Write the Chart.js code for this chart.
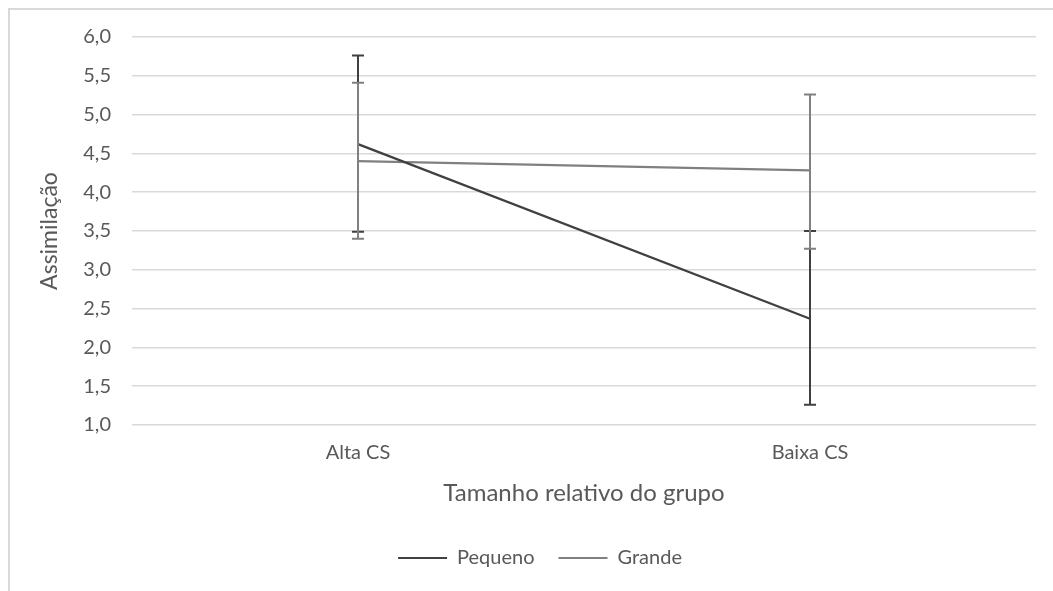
<!DOCTYPE html>
<html>
<head>
<meta charset="utf-8">
<script src="https://cdn.jsdelivr.net/npm/chart.js@4/dist/chart.umd.min.js"></script>
<style>
    body { margin: 0; background: #fff; overflow: hidden; }
    #moldura { position: absolute; left: 8px; top: 8px; right: 0; bottom: 0; border-top: 2px solid #d9d9d9; border-left: 2px solid #d9d9d9; }
    #grafico { position: absolute; left: 0; top: 0; }
</style>
</head>
<body>
<div id="moldura"></div>
<canvas id="grafico" width="1053" height="591"></canvas>
<script>
/* DADOS */

const categorias = ['Alta CS', 'Baixa CS'];

const pequenoMedia = [4.62, 2.37];
const pequenoSuperior = [5.76, 3.50];
const pequenoInferior = [3.49, 1.26];

const grandeMedia = [4.40, 4.28];
const grandeSuperior = [5.41, 5.26];
const grandeInferior = [3.40, 3.27];

const corTexto = '#595959';
const fonte = 'Lato, Calibri, sans-serif';

/* BARRAS DE ERRO */

const barrasDeErro = {
    id: 'barrasDeErro',
    afterDatasetsDraw(chart) {
        const ctx = chart.ctx;
        const x = chart.scales.x;
        const y = chart.scales.y;
        chart.data.datasets.forEach((dataset) => {
            ctx.save();
            ctx.strokeStyle = dataset.borderColor;
            ctx.lineWidth = 2;
            dataset.superior.forEach((valor, i) => {
                let px = x.getPixelForValue(i);
                let topo = y.getPixelForValue(valor);
                let base = y.getPixelForValue(dataset.inferior[i]);
                ctx.beginPath();
                ctx.moveTo(px, topo);
                ctx.lineTo(px, base);
                ctx.moveTo(px - 6, topo);
                ctx.lineTo(px + 6, topo);
                ctx.moveTo(px - 6, base);
                ctx.lineTo(px + 6, base);
                ctx.stroke();
            });
            ctx.restore();
        });
    }
};

/* GRAFICO */

const grafico = new Chart(document.querySelector('#grafico'), {
    type: 'line',
    data: {
        labels: categorias,
        datasets: [{
            label: 'Pequeno',
            data: pequenoMedia,
            superior: pequenoSuperior,
            inferior: pequenoInferior,
            borderColor: '#404040',
            backgroundColor: '#404040',
            borderWidth: 2.25,
            pointRadius: 0
        }, {
            label: 'Grande',
            data: grandeMedia,
            superior: grandeSuperior,
            inferior: grandeInferior,
            borderColor: '#808080',
            backgroundColor: '#808080',
            borderWidth: 2.25,
            pointRadius: 0
        }]
    },
    options: {
        responsive: false,
        animation: false,
        devicePixelRatio: 1,
        layout: { padding: { top: 37, left: 27, right: 0, bottom: 13 } },
        scales: {
            x: {
                offset: true,
                grid: { display: false },
                border: { display: false },
                ticks: { color: corTexto, font: { family: fonte, size: 20 }, padding: 8 },
                title: {
                    display: true,
                    text: 'Tamanho relativo do grupo',
                    color: corTexto,
                    font: { family: fonte, size: 24 },
                    padding: { top: 0, bottom: 16 }
                },
                afterFit(escala) { escala.height = 99; }
            },
            y: {
                min: 1,
                max: 6,
                ticks: {
                    stepSize: 0.5,
                    color: corTexto,
                    font: { family: fonte, size: 20 },
                    padding: 21,
                    callback: (v) => v.toFixed(1).replace('.', ',')
                },
                grid: { color: '#d9d9d9', lineWidth: 1.5, drawTicks: false },
                border: { display: false },
                title: {
                    display: true,
                    text: 'Assimilação',
                    color: corTexto,
                    font: { family: fonte, size: 23 },
                    padding: { top: 9, bottom: 0 }
                },
                afterFit(escala) { escala.width = 105; }
            },
            direita: {
                type: 'linear',
                position: 'right',
                display: true,
                grid: { display: false },
                border: { display: false },
                ticks: { display: false },
                afterFit(escala) { escala.width = 17; }
            }
        },
        plugins: {
            tooltip: { enabled: false },
            legend: {
                position: 'bottom',
                labels: {
                    color: corTexto,
                    font: { family: fonte, size: 20 },
                    boxWidth: 49,
                    boxHeight: 2,
                    padding: 24,
                    generateLabels(chart) {
                        let itens = Chart.defaults.plugins.legend.labels.generateLabels(chart);
                        itens.forEach((item) => { item.lineWidth = 0; });
                        return itens;
                    }
                }
            }
        }
    },
    plugins: [barrasDeErro]
});
</script>
</body>
</html>
